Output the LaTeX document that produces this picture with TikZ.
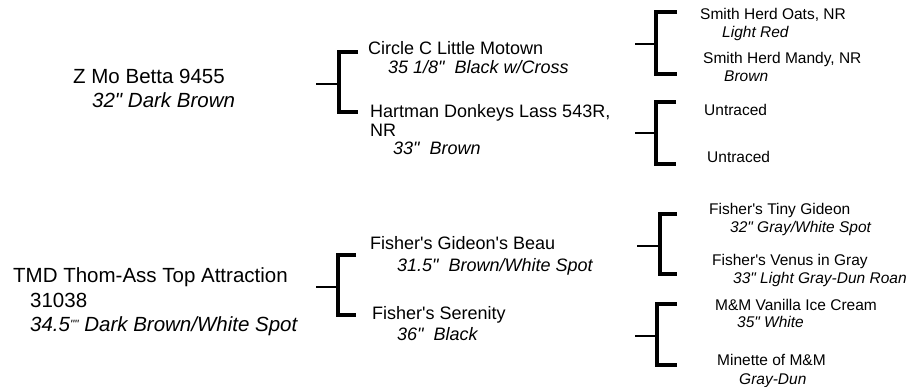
\documentclass[tikz,border=0pt]{standalone}
\usepackage{fontspec}
\setmainfont{Liberation Sans}
\setmonofont{Liberation Sans}
\begin{document}
\begin{tikzpicture}[x=1pt,y=-1pt,
  L/.style={anchor=base west,inner sep=0pt,font=\ttfamily\fontsize{20.5}{24}\selectfont},
  Li/.style={anchor=base west,inner sep=0pt,font=\ttfamily\fontsize{20.5}{24}\selectfont\itshape},
  M/.style={anchor=base west,inner sep=0pt,font=\ttfamily\fontsize{18}{21}\selectfont},
  Mi/.style={anchor=base west,inner sep=0pt,font=\ttfamily\fontsize{18}{21}\selectfont\itshape},
  R/.style={anchor=base west,inner sep=0pt,font=\ttfamily\fontsize{15.5}{18}\selectfont},
  Ri/.style={anchor=base west,inner sep=0pt,font=\ttfamily\fontsize{15.5}{18}\selectfont\itshape},
  brk/.style={line width=4pt,line join=miter},
  stub/.style={line width=2.5pt}]
\useasboundingbox (0,0) rectangle (911,387);
% left column
\node[L]  (zmo)  at (73,84)  {Z Mo Betta 9455};
\node[Li] (zmoc) at (92,108) {32" Dark Brown};
\node[L]  (tmd)  at (13,283) {TMD Thom-Ass Top Attraction};
\node[L]  (tmdn) at (30,308) {31038};
\node[Li] (tmdc) at (30,332) {34.5\raisebox{3pt}{\fontsize{12}{12}\selectfont""} Dark Brown/White Spot};
% middle column
\node[M]  (ccl)  at (368,55)  {Circle C Little Motown};
\node[Mi] (cclc) at (388,74)  {35 1/8"~ Black w/Cross};
\node[M]  (hdl)  at (370,118) {Hartman Donkeys Lass 543R,};
\node[M]  (hdln) at (370,137) {NR};
\node[Mi] (hdlc) at (393,155) {33"~ Brown};
\node[M]  (fgb)  at (370,250) {Fisher's Gideon's Beau};
\node[Mi] (fgbc) at (397,272) {31.5"~ Brown/White Spot};
\node[M]  (fse)  at (372,320) {Fisher's Serenity};
\node[Mi] (fsec) at (397,341) {36"~ Black};
% right column
\node[R]  (sho)  at (700,20)  {Smith Herd Oats, NR};
\node[Ri] (shoc) at (722,38)  {Light Red};
\node[R]  (shm)  at (703,64)  {Smith Herd Mandy, NR};
\node[Ri] (shmc) at (724,82)  {Brown};
\node[R]  (ut1)  at (704,116) {Untraced};
\node[R]  (ut2)  at (707,163) {Untraced};
\node[R]  (ftg)  at (709,215) {Fisher's Tiny Gideon};
\node[Ri] (ftgc) at (730,233) {32" Gray/White Spot};
\node[R]  (fvg)  at (712,266) {Fisher's Venus in Gray};
\node[Ri] (fvgc) at (733,284) {33" Light Gray-Dun Roan};
\node[R]  (mvc)  at (715,311) {M\&M Vanilla Ice Cream};
\node[Ri] (mvcc) at (737,328) {35" White};
\node[R]  (mmm)  at (717,366) {Minette of M\&M};
\node[Ri] (mmmc) at (739,385) {Gray-Dun};
% bracket coordinates
\coordinate (b1s) at (316,84);  \coordinate (b1m) at (339,84);
\coordinate (b1a) at (358,52);  \coordinate (b1b) at (358,112);
\coordinate (b2s) at (316,287); \coordinate (b2m) at (338,287);
\coordinate (b2a) at (356,255); \coordinate (b2b) at (356,315);
\coordinate (b3s) at (635,44);  \coordinate (b3m) at (656,44);
\coordinate (b3a) at (677,12);  \coordinate (b3b) at (677,74);
\coordinate (b4s) at (635,133); \coordinate (b4m) at (656,133);
\coordinate (b4a) at (676,102); \coordinate (b4b) at (676,164);
\coordinate (b5s) at (637,246); \coordinate (b5m) at (660,246);
\coordinate (b5a) at (677,214); \coordinate (b5b) at (677,274);
\coordinate (b6s) at (635,336); \coordinate (b6m) at (657,336);
\coordinate (b6a) at (677,304); \coordinate (b6b) at (677,365);
\foreach \i in {1,...,6}{
  \draw[stub] (b\i s) -- (b\i m);
  \draw[brk] (b\i a) -- (b\i m |- b\i a) -- (b\i m |- b\i b) -- (b\i b);
}
\end{tikzpicture}
\end{document}
